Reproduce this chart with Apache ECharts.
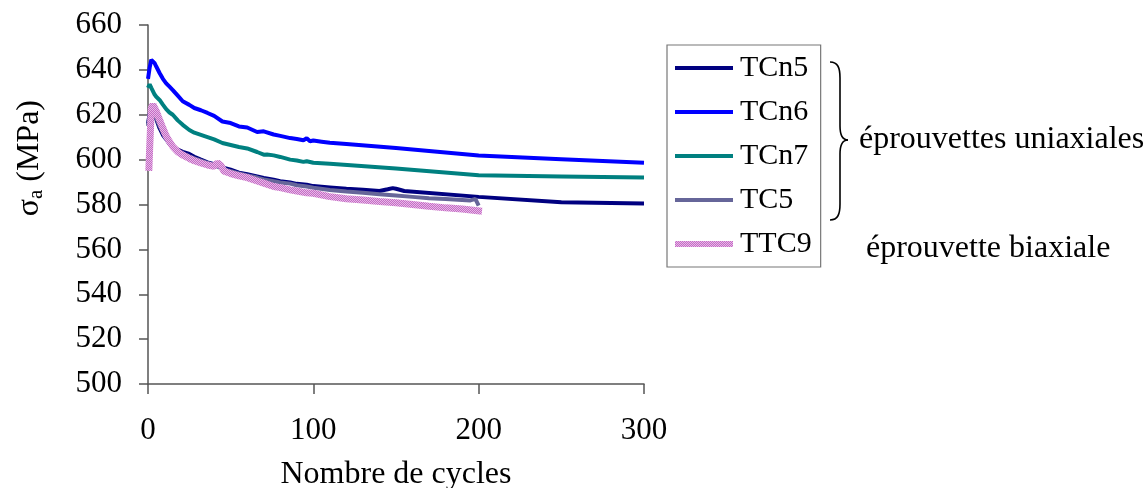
<!DOCTYPE html>
<html>
<head>
<meta charset="utf-8">
<script src="https://cdn.jsdelivr.net/npm/echarts@6/dist/echarts.min.js"></script>
<style>
html,body{margin:0;padding:0;background:#fff;}
#c{width:1147px;height:488px;}
</style>
</head>
<body>
<div id="c"></div>
<script>
// ---- data ----
var seriesNames = ['TCn5', 'TCn6', 'TCn7', 'TC5', 'TTC9'];
var xTicks = [0, 100, 200, 300];
var yTicks = [500, 520, 540, 560, 580, 600, 620, 640, 660];

var tcn5Cycles = [0,1,2,3,5,7,9,11,13,15,18,21,25,28,32,36,40,45,50,55,60,66,70,76,80,86,90,96,100,110,120,130,140,145,148,150,155,200,250,300];
var tcn5Values = [616,620.5,622,621.5,618,614,611,609,607,605.6,604.5,603.5,602.5,601.3,600,598.8,598,596.5,595.5,594.2,593.5,592.5,591.8,591,590.4,589.8,589.2,588.8,588.2,587.6,587,586.6,586,586.8,587.3,587,586,583.4,581,580.5];

var tcn6Cycles = [0,1,2,3,4,5,7,9,11,13,15,18,21,25,28,32,36,40,45,50,55,60,66,70,76,80,86,90,94,96,98,100,105,110,120,150,200,250,300];
var tcn6Values = [636,641,644.5,644.5,643,641.5,638.6,636,634,632.5,631,628.5,626,624.4,623,622,620.8,619.5,617,616.3,614.8,614.3,612.3,612.6,611.2,610.6,609.6,609.2,608.6,609.5,608.2,608.5,608,607.5,607,605.2,601.8,600.2,598.6];

var tcn7Cycles = [0,1,2,4,5,7,9,11,13,15,18,21,25,28,32,36,40,45,50,55,60,66,70,72,76,80,86,90,94,96,100,110,150,200,250,300];
var tcn7Values = [632,633.6,632,629,628,626.6,624.5,622.5,621,620,617.5,615.5,613.2,612,611,610,609,607.4,606.5,605.6,605,603.4,602.2,602.3,601.9,601.2,600,599.6,599,599.3,598.6,598.2,596,593,592.5,592];

var tc5Cycles = [0,1,2,3,5,7,9,11,13,15,18,21,25,28,32,36,40,45,50,55,60,66,70,76,80,86,90,96,100,110,120,130,140,150,160,170,180,190,195,198,200];
var tc5Values = [615,620,622,621.8,618.5,615,612,609.5,607.5,605.5,604,602.8,601.5,600.6,599.5,598.5,597.4,596,594.8,593.8,593,592,591.2,590.4,589.8,589.3,588.6,588,587.5,586.5,585.8,585.2,584.6,584,583.4,582.8,582.4,582,581.8,582.5,579.5];

var ttc9Cycles = [0.5,1,2,3,4,5,7,9,11,13,15,18,21,25,28,32,36,40,42,44,46,50,55,60,66,70,76,80,86,90,96,100,110,120,130,140,150,160,170,180,190,202];
var ttc9Values = [595,605,623,624.5,623.8,621.5,617.7,614,610.5,608,605.8,603.5,602,600.5,599.5,598.5,597.6,597,598.6,597.5,594.8,593.8,592.8,592,590.5,589.5,588,587.5,586.5,586,585.2,585,583.5,582.6,582,581.3,580.8,580,579.2,578.5,578,577];

// ---- build ----
function pairs(xs, ys){ return xs.map(function(x,i){ return [x, ys[i]]; }); }

var pc = document.createElement('canvas');
pc.width = 2; pc.height = 2;
var pctx = pc.getContext('2d');
pctx.fillStyle = '#c46cc4'; pctx.fillRect(0,0,2,2);
pctx.fillStyle = '#e8b8e8'; pctx.fillRect(0,0,1,1); pctx.fillRect(1,1,1,1);
var pinkPattern = { image: pc, repeat: 'repeat' };

var FONT = '"Liberation Serif", "Times New Roman", serif';
var chart = echarts.init(document.getElementById('c'), null, {renderer: 'canvas'});

var colors = { TCn5: '#000080', TCn6: '#0000ff', TCn7: '#008080', TC5: '#666699', TTC9: pinkPattern };

function mk(name, xs, ys, width){
  return {
    name: name, type: 'line', data: pairs(xs, ys),
    showSymbol: false, symbol: 'none', smooth: false, animation: false,
    lineStyle: { color: colors[name], width: width },
    itemStyle: { color: colors[name] }
  };
}

var braceStyle = { stroke: '#000', lineWidth: 1.6, fill: null };
function bz(x1,y1,c1x,c1y,c2x,c2y,x2,y2){
  return { type: 'bezierCurve', silent: true,
    shape: { x1:x1, y1:y1, cpx1:c1x, cpy1:c1y, cpx2:c2x, cpy2:c2y, x2:x2, y2:y2 },
    style: braceStyle };
}
function ln(x1,y1,x2,y2){
  return { type: 'line', silent: true, shape: { x1:x1, y1:y1, x2:x2, y2:y2 }, style: braceStyle };
}

var thinIcon = 'path://M0,0 M0,13 L58,13 L58,17 L0,17 Z M58,30';
var thickIcon = 'path://M0,0 M0,12 L58,12 L58,18 L0,18 Z M58,30';

var option = {
  animation: false,
  backgroundColor: '#fff',
  textStyle: { fontFamily: FONT },
  grid: { left: 148, right: 503, top: 25, bottom: 104, containLabel: false, outerBoundsMode: 'none' },
  xAxis: {
    type: 'value', min: xTicks[0], max: xTicks[xTicks.length-1], interval: 100,
    name: 'Nombre de cycles', nameLocation: 'middle', nameGap: 75,
    nameTextStyle: { fontFamily: FONT, fontSize: 32, color: '#000' },
    axisLine: { show: true, onZero: false, lineStyle: { color: '#555', width: 1.5 } },
    axisTick: { show: true, length: 10, inside: false, lineStyle: { color: '#555', width: 1.5 } },
    axisLabel: { margin: 31, fontFamily: FONT, fontSize: 31, color: '#000' },
    splitLine: { show: false }
  },
  yAxis: {
    type: 'value', min: yTicks[0], max: yTicks[yTicks.length-1], interval: 20,
    axisLine: { show: true, lineStyle: { color: '#555', width: 1.5 } },
    axisTick: { show: true, length: 9, inside: false, lineStyle: { color: '#555', width: 1.5 } },
    axisLabel: { margin: 26, fontFamily: FONT, fontSize: 31, color: '#000', padding: [6,0,0,0] },
    splitLine: { show: false }
  },
  legend: {
    orient: 'vertical', left: 667, top: 45,
    data: [
      { name: 'TCn5', icon: thinIcon },
      { name: 'TCn6', icon: thinIcon },
      { name: 'TCn7', icon: thinIcon },
      { name: 'TC5', icon: thinIcon },
      { name: 'TTC9', icon: thickIcon, itemStyle: { color: pinkPattern } }
    ],
    itemWidth: 58, itemHeight: 30, itemGap: 14,
    padding: [8, 9, 8, 8],
    borderColor: '#777', borderWidth: 1.2,
    textStyle: { fontFamily: FONT, fontSize: 30, color: '#000', padding: [4,0,0,2] },
    selectedMode: false
  },
  series: [
    mk('TCn5', tcn5Cycles, tcn5Values, 4),
    mk('TCn6', tcn6Cycles, tcn6Values, 4),
    mk('TCn7', tcn7Cycles, tcn7Values, 4),
    mk('TC5', tc5Cycles, tc5Values, 4),
    mk('TTC9', ttc9Cycles, ttc9Values, 7)
  ],
  graphic: [
    {
      type: 'text', left: 14, top: 100, rotation: Math.PI/2,
      style: {
        text: 'σ{s|a} (MPa)',
        font: '32px ' + FONT, fill: '#000',
        rich: { s: { fontSize: 21, fontFamily: FONT, verticalAlign: 'bottom', padding: [13,0,0,0] } }
      }
    },
    bz(830,62, 838,62, 840,68, 840,78),
    ln(840,78, 840,126),
    bz(840,126, 840,135, 843,140, 848,140),
    bz(848,140, 843,140, 840,145, 840,154),
    ln(840,154, 840,204),
    bz(840,204, 840,214, 838,220, 830,220),
    {
      type: 'text', left: 859, top: 124,
      style: { text: 'éprouvettes uniaxiales', font: '32px ' + FONT, fill: '#000' }
    },
    {
      type: 'text', left: 866, top: 233,
      style: { text: 'éprouvette biaxiale', font: '32px ' + FONT, fill: '#000' }
    }
  ]
};
chart.setOption(option);
</script>
</body>
</html>
